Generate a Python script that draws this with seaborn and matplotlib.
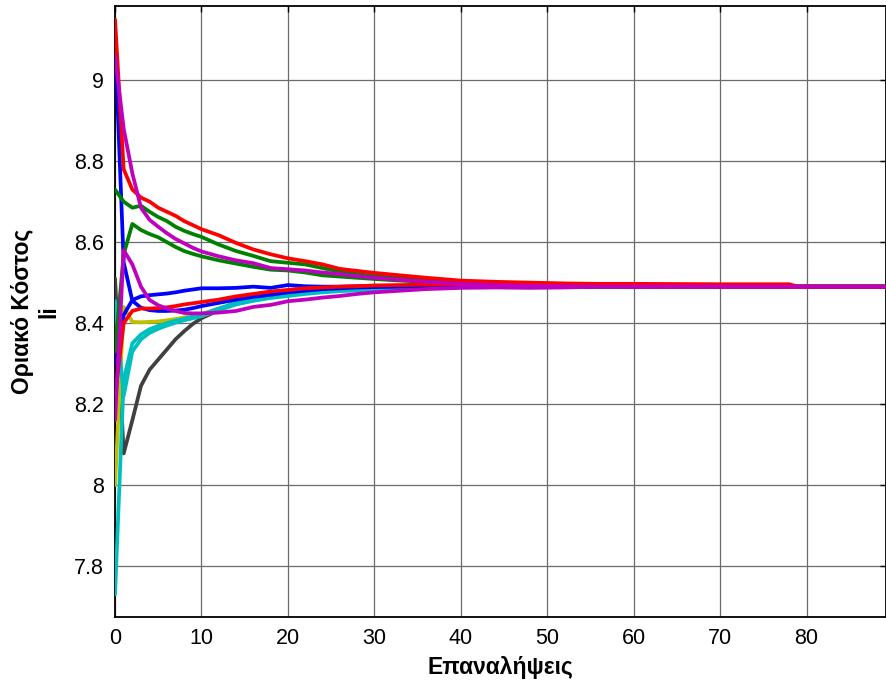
import matplotlib
matplotlib.use("Agg")
import matplotlib.pyplot as plt
import matplotlib.ticker as mticker
import numpy as np
import pandas as pd
import seaborn as sns

# Iterations at which the marginal cost of each unit is recorded
iters = [0, 1, 2, 3, 4, 5, 6, 7, 8, 9, 10, 12, 14, 16, 18, 20, 22, 24, 26, 28,
         30, 33, 36, 40, 44, 48, 52, 56, 60, 70, 78, 79, 89]

gray_k = [8.51, 8.078, 8.16, 8.245, 8.285, 8.31, 8.335, 8.36, 8.38, 8.398, 8.412,
          8.432, 8.452, 8.458, 8.465, 8.470, 8.475, 8.479, 8.483, 8.486, 8.488,
          8.489, 8.490, 8.490, 8.490, 8.490, 8.490, 8.490, 8.490, 8.490, 8.490, 8.490, 8.490]
yellow_y = [8.00, 8.44, 8.403, 8.402, 8.403, 8.404, 8.407, 8.410, 8.414, 8.418, 8.422,
            8.436, 8.448, 8.458, 8.465, 8.470, 8.475, 8.478, 8.481, 8.484, 8.486,
            8.488, 8.489, 8.490, 8.490, 8.490, 8.490, 8.490, 8.490, 8.490, 8.490, 8.490, 8.490]
cyan_a = [7.73, 8.26, 8.35, 8.372, 8.385, 8.393, 8.400, 8.406, 8.411, 8.416, 8.421,
          8.436, 8.450, 8.458, 8.465, 8.469, 8.474, 8.478, 8.480, 8.482, 8.484,
          8.486, 8.488, 8.489, 8.490, 8.490, 8.490, 8.490, 8.490, 8.490, 8.490, 8.490, 8.490]
cyan_b = [8.455, 8.22, 8.33, 8.36, 8.376, 8.386, 8.394, 8.401, 8.407, 8.412, 8.417,
          8.432, 8.446, 8.455, 8.462, 8.467, 8.472, 8.476, 8.479, 8.481, 8.483,
          8.486, 8.487, 8.489, 8.490, 8.490, 8.490, 8.490, 8.490, 8.490, 8.490, 8.490, 8.490]
blue_a = [9.10, 8.55, 8.455, 8.438, 8.432, 8.430, 8.430, 8.431, 8.433, 8.437, 8.442,
          8.450, 8.458, 8.465, 8.470, 8.476, 8.480, 8.484, 8.486, 8.488, 8.489,
          8.490, 8.490, 8.490, 8.490, 8.490, 8.490, 8.490, 8.490, 8.490, 8.490, 8.490, 8.490]
blue_b = [8.30, 8.42, 8.457, 8.466, 8.469, 8.471, 8.473, 8.476, 8.480, 8.483, 8.486,
          8.486, 8.487, 8.490, 8.487, 8.494, 8.491, 8.490, 8.490, 8.491, 8.492,
          8.492, 8.492, 8.492, 8.491, 8.490, 8.490, 8.490, 8.490, 8.490, 8.490, 8.490, 8.490]
green_a = [8.73, 8.70, 8.685, 8.69, 8.675, 8.662, 8.652, 8.638, 8.628, 8.620, 8.613,
           8.594, 8.578, 8.566, 8.553, 8.549, 8.545, 8.536, 8.527, 8.521, 8.516,
           8.511, 8.507, 8.503, 8.497, 8.493, 8.490, 8.490, 8.490, 8.490, 8.490, 8.490, 8.490]
green_b = [8.33, 8.57, 8.645, 8.63, 8.62, 8.612, 8.600, 8.588, 8.578, 8.571, 8.565,
           8.555, 8.547, 8.539, 8.532, 8.530, 8.525, 8.518, 8.515, 8.512, 8.509,
           8.505, 8.502, 8.499, 8.496, 8.493, 8.490, 8.490, 8.490, 8.490, 8.490, 8.490, 8.490]
red_a = [9.15, 8.78, 8.73, 8.71, 8.70, 8.685, 8.675, 8.665, 8.652, 8.642, 8.632,
         8.617, 8.598, 8.582, 8.570, 8.560, 8.553, 8.545, 8.534, 8.529, 8.524,
         8.518, 8.512, 8.505, 8.502, 8.500, 8.498, 8.497, 8.497, 8.496, 8.496, 8.490, 8.490]
red_b = [8.22, 8.40, 8.43, 8.436, 8.436, 8.437, 8.439, 8.442, 8.446, 8.449, 8.452,
         8.458, 8.466, 8.472, 8.478, 8.482, 8.486, 8.488, 8.490, 8.491, 8.493,
         8.494, 8.495, 8.496, 8.497, 8.497, 8.497, 8.496, 8.490, 8.490, 8.490, 8.490, 8.490]
magenta_a = [9.06, 8.88, 8.77, 8.685, 8.655, 8.638, 8.622, 8.608, 8.597, 8.586, 8.577,
             8.565, 8.555, 8.548, 8.536, 8.533, 8.530, 8.525, 8.521, 8.516, 8.512,
             8.507, 8.502, 8.497, 8.494, 8.492, 8.491, 8.490, 8.490, 8.490, 8.490, 8.490, 8.490]
magenta_b = [8.16, 8.58, 8.545, 8.49, 8.457, 8.444, 8.436, 8.430, 8.425, 8.424, 8.424,
             8.426, 8.430, 8.440, 8.445, 8.454, 8.458, 8.463, 8.467, 8.472, 8.476,
             8.480, 8.484, 8.487, 8.488, 8.487, 8.488, 8.490, 8.490, 8.490, 8.490, 8.490, 8.490]

series = {
    "k": gray_k, "y": yellow_y, "c1": cyan_a, "c2": cyan_b,
    "b1": blue_a, "b2": blue_b, "g1": green_a, "g2": green_b,
    "r1": red_a, "r2": red_b, "m1": magenta_a, "m2": magenta_b,
}
palette = {
    "k": (0.25, 0.25, 0.25), "y": (0.75, 0.75, 0.0),
    "c1": (0.0, 0.75, 0.75), "c2": (0.0, 0.75, 0.75),
    "b1": (0.0, 0.0, 1.0), "b2": (0.0, 0.0, 1.0),
    "g1": (0.0, 0.5, 0.0), "g2": (0.0, 0.5, 0.0),
    "r1": (1.0, 0.0, 0.0), "r2": (1.0, 0.0, 0.0),
    "m1": (0.75, 0.0, 0.75), "m2": (0.75, 0.0, 0.75),
}

df = pd.concat(
    [pd.DataFrame({"iter": iters, "cost": vals, "unit": name}) for name, vals in series.items()],
    ignore_index=True,
)

sns.set_style("white")
plt.rcParams["font.family"] = ["Liberation Sans", "DejaVu Sans"]
plt.rcParams["text.color"] = "black"
plt.rcParams["axes.labelcolor"] = "black"

fig = plt.figure(figsize=(8.87, 6.84), dpi=100)
ax = fig.add_axes([0.1297, 0.098, 0.8693, 0.893])

sns.lineplot(data=df, x="iter", y="cost", hue="unit", hue_order=list(series.keys()),
             palette=palette, sort=False, estimator=None, legend=False,
             linewidth=2.7, ax=ax, zorder=3)

ax.set_xlim(0, 89.2)
ax.set_ylim(7.674, 9.183)
ax.set_xticks(np.arange(0, 81, 10))
ax.set_yticks([7.8, 8.0, 8.2, 8.4, 8.6, 8.8, 9.0])
ax.yaxis.set_major_formatter(mticker.FormatStrFormatter("%g"))

ax.grid(True, color="0.42", linewidth=0.9, zorder=0)
ax.set_axisbelow(True)
for s in ax.spines.values():
    s.set_color("black")
    s.set_linewidth(1.3)
ax.tick_params(direction="in", length=4, width=1, top=True, right=True,
               labelsize=15.5, colors="black", labelcolor="black", pad=8)

ax.set_xlabel("Επαναλήψεις", fontsize=16.5, fontweight="bold", labelpad=5, color="black")
ax.set_ylabel("Οριακό Κόστος\nli", fontsize=16.5, fontweight="bold", labelpad=10, color="black")

fig.savefig("out.png", dpi=100)
